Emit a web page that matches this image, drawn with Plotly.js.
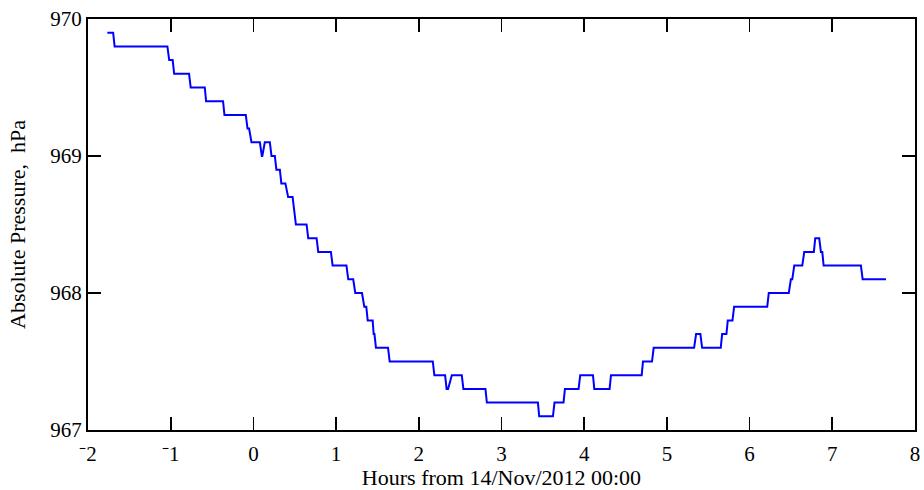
<!DOCTYPE html>
<html>
<head>
<meta charset="utf-8">
<script src="https://cdn.plot.ly/plotly-3.0.1.min.js"></script>
<style>html,body{margin:0;padding:0;background:#fff;}#chart{width:924px;height:490px;}</style>
</head>
<body>
<div id="chart"></div>
<script>
// Hours from 14/Nov/2012 00:00 (start and end of each reading level)
const hours = [
  -1.766,-1.696, -1.678,-1.040, -1.018,-0.976, -0.958,-0.778, -0.758,-0.588,
  -0.572,-0.367, -0.350,-0.092, -0.071,-0.052, -0.023,0.078, 0.102,0.108,
  0.138,0.199, 0.219,0.259, 0.278,0.320, 0.338,0.387, 0.420,0.474,
  0.514,0.643, 0.663,0.764, 0.784,0.937, 0.958,1.125, 1.147,1.207,
  1.232,1.313, 1.341,1.365, 1.382,1.442, 1.454,1.464, 1.482,1.628,
  1.648,2.169, 2.188,2.318, 2.336,2.354, 2.399,2.520, 2.539,2.806,
  2.823,3.440, 3.456,3.622, 3.641,3.750, 3.767,3.932, 3.952,4.106,
  4.122,4.307, 4.324,4.695, 4.711,4.820, 4.840,5.329, 5.353,5.405,
  5.426,5.651, 5.668,5.720, 5.736,5.793, 5.813,6.213, 6.232,6.474,
  6.499,6.516, 6.540,6.637, 6.661,6.777, 6.794,6.842, 6.862,6.879,
  6.895,7.346, 7.367,7.649
];
// Absolute pressure, hPa
const pressure = [
  969.9,969.9, 969.8,969.8, 969.7,969.7, 969.6,969.6, 969.5,969.5,
  969.4,969.4, 969.3,969.3, 969.2,969.2, 969.1,969.1, 969.0,969.0,
  969.1,969.1, 969.0,969.0, 968.9,968.9, 968.8,968.8, 968.7,968.7,
  968.5,968.5, 968.4,968.4, 968.3,968.3, 968.2,968.2, 968.1,968.1,
  968.0,968.0, 967.9,967.9, 967.8,967.8, 967.7,967.7, 967.6,967.6,
  967.5,967.5, 967.4,967.4, 967.3,967.3, 967.4,967.4, 967.3,967.3,
  967.2,967.2, 967.1,967.1, 967.2,967.2, 967.3,967.3, 967.4,967.4,
  967.3,967.3, 967.4,967.4, 967.5,967.5, 967.6,967.6, 967.7,967.7,
  967.6,967.6, 967.7,967.7, 967.8,967.8, 967.9,967.9, 968.0,968.0,
  968.1,968.1, 968.2,968.2, 968.3,968.3, 968.4,968.4, 968.3,968.3,
  968.2,968.2, 968.1,968.1
];
const xTickVals = [-2,-1,0,1,2,3,4,5,6,7,8];
const xTickText = ["\u207B2","\u207B1","0","1","2","3","4","5","6","7","8"];
const yTickVals = [967,968,969,970];
const yTickText = ["967","968","969","970"];

const fam = '"Liberation Serif", "Times New Roman", serif';
const tickFont = {family: fam, size: 21, color: '#000'};
const titleFont = {family: fam, size: 22, color: '#000'};

Plotly.newPlot('chart', [{
  x: hours, y: pressure, type: 'scatter', mode: 'lines',
  line: {color: '#0000ff', width: 2}, hoverinfo: 'none'
}], {
  width: 924, height: 490,
  margin: {l: 88, r: 9, t: 19, b: 60},
  paper_bgcolor: '#fff', plot_bgcolor: '#fff',
  showlegend: false,
  font: tickFont,
  xaxis: {
    range: [-2, 8], tickvals: xTickVals, ticktext: xTickText,
    ticks: 'inside', ticklen: 13, tickwidth: 1.8, tickcolor: '#000',
    showline: true, linecolor: '#000', linewidth: 2, mirror: 'ticks',
    showgrid: false, zeroline: false,
    tickfont: tickFont, ticklabelstandoff: 4,
    title: {text: 'Hours from 14/Nov/2012 00:00', font: titleFont, standoff: 0}
  },
  yaxis: {
    range: [967, 970], tickvals: yTickVals, ticktext: yTickText,
    ticks: 'inside', ticklen: 13, tickwidth: 1.8, tickcolor: '#000',
    showline: true, linecolor: '#000', linewidth: 2, mirror: 'ticks',
    showgrid: false, zeroline: false,
    tickfont: tickFont,
    title: {text: 'Absolute Pressure,  hPa', font: titleFont, standoff: 19}
  }
}, {displayModeBar: false, staticPlot: true});
</script>
</body>
</html>
